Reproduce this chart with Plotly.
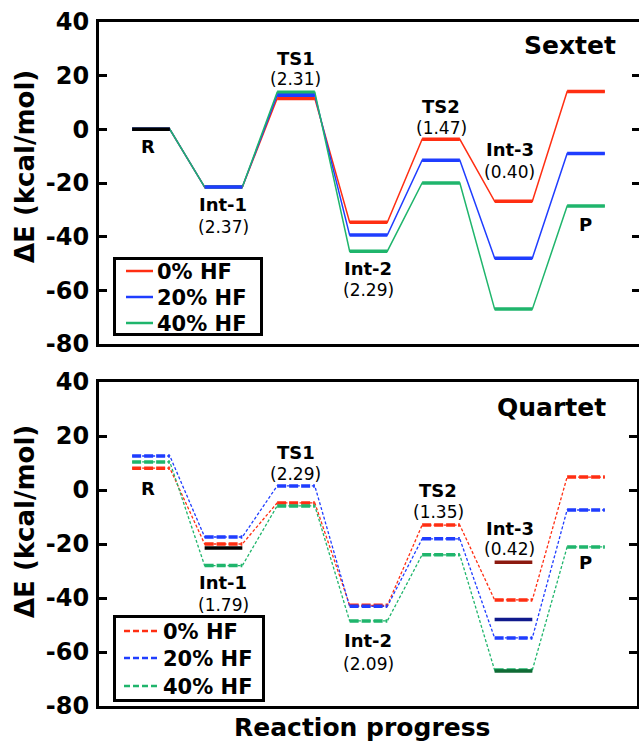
import plotly.graph_objects as go

# ---------------- data ----------------
states = ["R", "Int-1", "TS1", "Int-2", "TS2", "Int-3", "P"]
series_names = ["0% HF", "20% HF", "40% HF"]

sextet_0 = [0.0, -21.5, 11.5, -34.6, -3.7, -26.8, 14.1]
sextet_20 = [0.0, -21.5, 12.7, -39.4, -11.5, -48.0, -9.0]
sextet_40 = [0.0, -21.5, 13.8, -45.4, -20.0, -67.0, -28.6]

quartet_0 = [8.1, -20.0, -4.8, -42.7, -13.0, -40.7, 4.8]
quartet_20 = [12.6, -17.4, 1.5, -43.1, -18.1, -54.8, -7.4]
quartet_40 = [10.4, -28.0, -5.9, -48.5, -24.0, -66.7, -21.1]

sextet_bonds = ["", "(2.37)", "(2.31)", "(2.29)", "(1.47)", "(0.40)", ""]
quartet_bonds = ["", "(1.79)", "(2.29)", "(2.09)", "(1.35)", "(0.42)", ""]

y_ticks = [-80, -60, -40, -20, 0, 20, 40]
y_ticktext = ["-80", "-60", "-40", "-20", "0", "20", "40"]

# ---------------- styling ----------------
COLORS = ["#ff2e12", "#1f3dff", "#1fb56c"]
DARK = ["#8c1a10", "#101a8c", "#0f6a35"]
HW = 0.26
FONT = "DejaVu Sans"
W, H = 639, 744
ML, MR, MT, MB = 99, 0, 22, 38
PW, PH = W - ML - MR, H - MT - MB
pos = list(range(1, len(states) + 1))


def px(x):
    return (x - ML) / PW


def py(y):
    return (H - MB - y) / PH


def path_xy(vals):
    xs, ys = [], []
    for p, v in zip(pos, vals):
        xs += [p - HW, p + HW]
        ys += [v, v]
    return xs, ys


def level_xy(vals, idx=None):
    xs, ys = [], []
    for i, (p, v) in enumerate(zip(pos, vals)):
        if idx is not None and i not in idx:
            continue
        xs += [p - HW, p + HW, None]
        ys += [v, v, None]
    return xs, ys


fig = go.Figure()

sextet = [sextet_0, sextet_20, sextet_40]
quartet = [quartet_0, quartet_20, quartet_40]

# ----- Sextet panel -----
for vals, c in zip(sextet, COLORS):
    xs, ys = path_xy(vals)
    fig.add_trace(go.Scatter(x=xs, y=ys, mode="lines", showlegend=False,
                             line=dict(color=c, width=1.5), xaxis="x", yaxis="y",
                             hoverinfo="skip"))
for k in [0, 2, 1]:
    xs, ys = level_xy(sextet[k])
    fig.add_trace(go.Scatter(x=xs, y=ys, mode="lines", showlegend=False,
                             line=dict(color=COLORS[k], width=3.5), xaxis="x", yaxis="y",
                             hoverinfo="skip"))
xs, ys = level_xy(sextet_0, idx=[0])
fig.add_trace(go.Scatter(x=xs, y=ys, mode="lines", showlegend=False,
                         line=dict(color="black", width=3.5), xaxis="x", yaxis="y"))

# ----- Quartet panel -----
for vals, c in zip(quartet, COLORS):
    xs, ys = path_xy(vals)
    fig.add_trace(go.Scatter(x=xs, y=ys, mode="lines", showlegend=False,
                             line=dict(color=c, width=1.3, dash="3px,2px"),
                             xaxis="x2", yaxis="y2", hoverinfo="skip"))
for k in [0, 2, 1]:
    xs, ys = level_xy(quartet[k])
    fig.add_trace(go.Scatter(x=xs, y=ys, mode="lines", showlegend=False,
                             line=dict(color=COLORS[k], width=3.5, dash="9px,3px"),
                             xaxis="x2", yaxis="y2", hoverinfo="skip"))
# sextet reference levels overlaid on quartet panel
xs, ys = level_xy(sextet_20, idx=[1])
fig.add_trace(go.Scatter(x=xs, y=ys, mode="lines", showlegend=False,
                         line=dict(color="black", width=3.5), xaxis="x2", yaxis="y2"))
for k in range(3):
    xs, ys = level_xy(sextet[k], idx=[5])
    fig.add_trace(go.Scatter(x=xs, y=ys, mode="lines", showlegend=False,
                             line=dict(color=DARK[k], width=3.5), xaxis="x2", yaxis="y2"))

# dummy trace for right tick axis
fig.add_trace(go.Scatter(x=[None], y=[None], showlegend=False, xaxis="x", yaxis="y3"))

# ----- annotations -----
ann = []
shapes = []


def lab(x, y, text, xr, yr, size=18, bold=True, xanchor="center"):
    ann.append(dict(x=x, y=y, xref=xr, yref=yr, text=text, showarrow=False,
                    xanchor=xanchor, yanchor="middle",
                    font=dict(family=FONT, size=size, color="black",
                              weight="bold" if bold else "normal")))


# sextet labels
top_name_pos = {"R": (0.96, -6.3), "Int-1": (2.0, -27.9), "TS1": (3.0, 26.4),
                "Int-2": (4.0, -51.7), "TS2": (5.0, 8.4), "Int-3": (5.95, -7.4),
                "P": (6.99, -35.3)}
top_bond_pos = {"Int-1": (2.0, -36.4), "TS1": (3.0, 18.6), "Int-2": (4.0, -59.9),
                "TS2": (5.0, 0.4), "Int-3": (5.95, -16.0)}
for s, b in zip(states, sextet_bonds):
    x, y = top_name_pos[s]
    lab(x, y, s, "x", "y")
    if b:
        x, y = top_bond_pos[s]
        lab(x, y, b, "x", "y", size=17, bold=False)
lab(6.78, 31.2, "Sextet", "x", "y", size=25)

bot_name_pos = {"R": (0.96, 0.7), "Int-1": (2.0, -34.3), "TS1": (3.0, 13.9),
                "Int-2": (4.0, -55.7), "TS2": (4.96, 0.0), "Int-3": (5.95, -14.4),
                "P": (6.99, -26.7)}
bot_bond_pos = {"Int-1": (2.0, -42.6), "TS1": (3.0, 5.9), "Int-2": (4.0, -64.4),
                "TS2": (4.96, -8.1), "Int-3": (5.95, -21.9)}
for s, b in zip(states, quartet_bonds):
    x, y = bot_name_pos[s]
    lab(x, y, s, "x2", "y2")
    if b:
        x, y = bot_bond_pos[s]
        lab(x, y, b, "x2", "y2", size=17, bold=False)
lab(6.52, 30.4, "Quartet", "x2", "y2", size=25)

# axis titles
for yc in [167, 522]:
    ann.append(dict(x=px(25), y=py(yc), xref="paper", yref="paper", text="ΔE (kcal/mol)",
                    textangle=-90, showarrow=False, xanchor="center", yanchor="middle",
                    font=dict(family=FONT, size=26, color="black", weight="bold")))
ann.append(dict(x=px(362), y=py(727), xref="paper", yref="paper", text="Reaction progress",
                showarrow=False, xanchor="center", yanchor="middle",
                font=dict(family=FONT, size=25, color="black", weight="bold")))

# ----- legends (drawn as box, sample lines and text) -----
legend_specs = [
    # box x0, x1, y0, y1, line x0, x1, text x, row ys, dash
    (114.5, 261.5, 258.5, 334.5, 126, 153, 155, [271, 297, 323], "solid"),
    (114.5, 263.5, 616.5, 700.5, 124, 158, 161, [631, 658, 686], "6px,3px"),
]
for bx0, bx1, by0, by1, lx0, lx1, tx, rows, dash in legend_specs:
    shapes.append(dict(type="rect", xref="paper", yref="paper", x0=px(bx0), x1=px(bx1),
                       y0=py(by1), y1=py(by0), fillcolor="white",
                       line=dict(color="black", width=3), layer="above"))
    for name, c, ry in zip(series_names, COLORS, rows):
        shapes.append(dict(type="line", xref="paper", yref="paper", x0=px(lx0), x1=px(lx1),
                           y0=py(ry), y1=py(ry), line=dict(color=c, width=2.5, dash=dash),
                           layer="above"))
        ann.append(dict(x=px(tx), y=py(ry + 1), xref="paper", yref="paper", text=name,
                        showarrow=False, xanchor="left", yanchor="middle",
                        font=dict(family=FONT, size=21, color="black", weight="bold")))

# ----- layout -----
tickfont = dict(family=FONT, size=24, color="black", weight="bold")
yax_common = dict(range=[-80, 40], tickvals=y_ticks, ticktext=y_ticktext, ticks="inside",
                  ticklen=8, tickwidth=3, tickcolor="black", showgrid=False, zeroline=False,
                  showline=True, linewidth=3, linecolor="black", tickfont=tickfont,
                  ticklabelstandoff=2)

fig.update_layout(
    width=W, height=H,
    margin=dict(l=ML, r=MR, t=MT, b=MB),
    paper_bgcolor="white", plot_bgcolor="white",
    hovermode=False,
    xaxis=dict(domain=[0, 1], range=[0.283, 7.731], anchor="y", showline=True, mirror=True,
               linewidth=3, linecolor="black", showticklabels=False, ticks="",
               showgrid=False, zeroline=False),
    yaxis=dict(domain=[py(344), 1], anchor="x", mirror=False, **yax_common),
    yaxis3=dict(overlaying="y", side="right", anchor="x", range=[-80, 40], tickvals=y_ticks,
                ticks="inside", ticklen=7, tickwidth=3, tickcolor="black",
                showticklabels=False, showline=False, showgrid=False, zeroline=False),
    xaxis2=dict(domain=[0, px(636.5)], range=[0.283, 7.697], anchor="y2", showline=True,
                mirror=True, linewidth=3, linecolor="black", showticklabels=False, ticks="",
                showgrid=False, zeroline=False),
    yaxis2=dict(domain=[0, py(382)], anchor="x2", mirror="ticks", **yax_common),
    annotations=ann,
    shapes=shapes,
    showlegend=False,
)

fig.write_html("out.html", config={"displayModeBar": False},
               post_script="document.body.style.margin='0';"
                           "document.body.style.padding='0';")
